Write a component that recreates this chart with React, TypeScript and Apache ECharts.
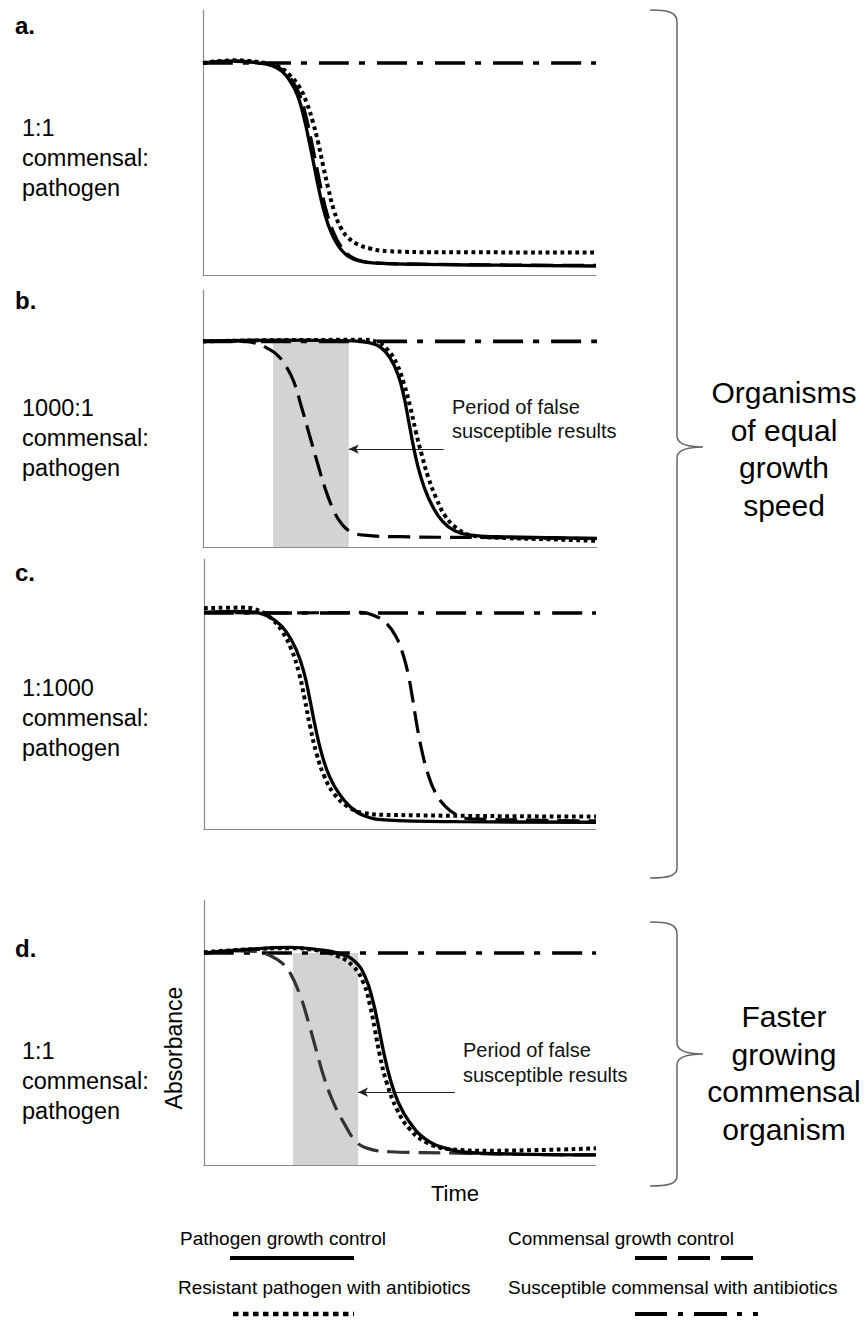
import React, { useEffect, useRef } from "react";
import * as echarts from "echarts";

type Pt = [number, number];

// ---------- data (time 0..100, absorbance 0..1) ----------
const panelLetters = ["a.", "b.", "c.", "d."];
const panelRatioLabels = ["1:1\ncommensal:\npathogen", "1000:1\ncommensal:\npathogen", "1:1000\ncommensal:\npathogen", "1:1\ncommensal:\npathogen"];
const seriesNames = [
  "Pathogen growth control",
  "Resistant pathogen with antibiotics",
  "Commensal growth control",
  "Susceptible commensal with antibiotics",
];
const bracketLabels = ["Organisms\nof equal\ngrowth\nspeed", "Faster\ngrowing\ncommensal\norganism"];
const annotationText = "Period of false\nsusceptible results";
const xAxisName = "Time";
const yAxisName = "Absorbance";

// panel a
const aPathogen: Pt[] = [[0, 0.8], [8, 0.808], [14, 0.8], [17.5, 0.79], [20, 0.77], [22, 0.735], [24, 0.68], [25.5, 0.605], [27, 0.505], [28.3, 0.41], [29.6, 0.315], [31, 0.23], [32.5, 0.165], [34.5, 0.108], [37, 0.07], [40, 0.052], [44, 0.045], [55, 0.04], [75, 0.037], [100, 0.034]];
const aCommensal: Pt[] = [[0, 0.8], [8, 0.806], [14.6, 0.8], [18.1, 0.79], [20.6, 0.77], [22.6, 0.735], [24.6, 0.68], [26.1, 0.605], [27.6, 0.505], [28.9, 0.41], [30.2, 0.315], [31.6, 0.23], [33.1, 0.165], [35.1, 0.108], [37.6, 0.07], [40.6, 0.052], [44.6, 0.045], [55, 0.041], [75, 0.038], [100, 0.036]];
const aResistant: Pt[] = [[0, 0.8], [8, 0.81], [16, 0.8], [19.5, 0.785], [22, 0.755], [24.5, 0.71], [26.5, 0.645], [28, 0.575], [29.3, 0.5], [30.6, 0.41], [31.9, 0.325], [33.3, 0.245], [35, 0.18], [37, 0.14], [39.5, 0.115], [42.5, 0.1], [47, 0.09], [60, 0.086], [100, 0.085]];
const aSusceptible: Pt[] = [[0, 0.8], [100, 0.8]];

// panel b
const bPathogen: Pt[] = [[0, 0.8], [20, 0.805], [38, 0.802], [42, 0.795], [45, 0.778], [47.5, 0.735], [49.5, 0.67], [51, 0.585], [52.2, 0.49], [53.3, 0.4], [54.6, 0.31], [56.2, 0.23], [58.2, 0.16], [60.8, 0.1], [64, 0.062], [68, 0.046], [75, 0.04], [90, 0.036], [100, 0.033]];
const bResistant: Pt[] = [[0, 0.8], [20, 0.805], [41, 0.806], [44.5, 0.795], [47, 0.765], [49.2, 0.712], [51, 0.635], [52.6, 0.545], [54, 0.45], [55.5, 0.36], [57.2, 0.27], [59.2, 0.19], [61.5, 0.12], [64.3, 0.075], [68, 0.045], [75, 0.036], [88, 0.03], [100, 0.024]];
const bCommensal: Pt[] = [[0, 0.801], [9, 0.802], [13.5, 0.793], [16.5, 0.772], [19, 0.745], [21, 0.705], [23, 0.645], [25, 0.545], [27, 0.437], [29, 0.33], [31, 0.228], [33, 0.148], [35, 0.094], [37.5, 0.06], [41, 0.046], [50, 0.04], [70, 0.037], [100, 0.033]];
const bSusceptible: Pt[] = [[0, 0.8], [100, 0.8]];

// panel c
const cPathogen: Pt[] = [[0, 0.802], [10, 0.806], [15, 0.796], [18.2, 0.772], [21, 0.73], [23.5, 0.665], [25.5, 0.58], [27, 0.48], [28.4, 0.378], [30, 0.28], [32, 0.195], [34.5, 0.13], [37.5, 0.08], [41, 0.048], [46, 0.034], [65, 0.027], [100, 0.025]];
const cResistant: Pt[] = [[0, 0.818], [10, 0.82], [14.5, 0.806], [17.5, 0.775], [20, 0.73], [22.3, 0.665], [24.2, 0.58], [25.7, 0.48], [27.1, 0.378], [28.7, 0.28], [30.7, 0.195], [33.2, 0.13], [36.5, 0.085], [40.5, 0.06], [48, 0.052], [100, 0.046]];
const cCommensal: Pt[] = [[0, 0.802], [20, 0.8], [40, 0.802], [43.5, 0.79], [46.5, 0.762], [49, 0.712], [50.8, 0.645], [52.2, 0.565], [53.3, 0.475], [54.3, 0.385], [55.5, 0.295], [57, 0.21], [59, 0.135], [61.5, 0.085], [64.5, 0.052], [68, 0.038], [83, 0.033], [100, 0.03]];
const cSusceptible: Pt[] = [[0, 0.8], [100, 0.8]];

// panel d
const dPathogen: Pt[] = [[0, 0.8], [9.3, 0.812], [22, 0.821], [28.8, 0.813], [34.5, 0.798], [38.5, 0.768], [41.2, 0.707], [43.1, 0.618], [44.5, 0.524], [45.8, 0.428], [47.4, 0.33], [49.6, 0.235], [52.5, 0.16], [56.5, 0.098], [62, 0.062], [70, 0.045], [100, 0.038]];
const dResistant: Pt[] = [[0, 0.803], [9.3, 0.812], [22, 0.818], [28.8, 0.81], [34, 0.789], [38.1, 0.749], [40.7, 0.687], [42.4, 0.599], [43.6, 0.511], [44.9, 0.411], [46.6, 0.311], [49.2, 0.211], [52.5, 0.135], [56.8, 0.085], [62.7, 0.06], [72.9, 0.054], [100, 0.063]];
const dCommensal: Pt[] = [[0, 0.8], [9.3, 0.808], [13.6, 0.806], [17, 0.789], [19.9, 0.762], [22, 0.724], [24.6, 0.637], [26.7, 0.536], [28.8, 0.424], [30.5, 0.336], [33, 0.236], [35.6, 0.161], [39, 0.085], [42.4, 0.06], [47.5, 0.05], [64.4, 0.045], [81.4, 0.04], [100, 0.038]];
const dSusceptible: Pt[] = [[0, 0.8], [100, 0.8]];

// false-susceptible period (time range, up to plateau absorbance) and arrows
const bBand = [17.8, 37.0, 0.8];
const dBand = [22.7, 39.3, 0.8];
const bArrow: Pt[] = [[61.1, 0.381], [37.0, 0.381]];
const dArrow: Pt[] = [[64.0, 0.275], [39.3, 0.275]];

// ---------- shapes ----------
const FONT = "'Liberation Sans', Arial, Helvetica, sans-serif";
const brace1 =
  "M650,10 C668,10 677,12 677,22 L677,436 C677,443 684,447 703,447 C684,447 677,451 677,458 L677,868 C677,876 668,878 650,878";
const brace2 =
  "M650,922 C668,922 677,924 677,934 L677,1043 C677,1050 684,1054 703,1054 C684,1054 677,1058 677,1065 L677,1176 C677,1184 668,1186 650,1186";
echarts.graphic.registerShape("braceTop", echarts.graphic.extendPath(brace1, {}));
echarts.graphic.registerShape("braceBottom", echarts.graphic.extendPath(brace2, {}));

const grids = [
  { left: 203, top: 10, width: 393, height: 265 },
  { left: 203, top: 290, width: 394, height: 257 },
  { left: 204, top: 559, width: 392, height: 270 },
  { left: 204, top: 900, width: 392, height: 265 },
];

const styles = {
  solid: { color: "#000", width: 3.3, type: "solid" },
  dotted: { color: "#000", width: 4, type: [3.8, 3.6] },
  dashed: { color: "#000", width: 3.2, type: [22, 9] },
  dashDot: { color: "#000", width: 3.6, type: [30, 10, 6, 12] },
};

export default function App() {
  const ref = useRef<HTMLDivElement>(null);
  useEffect(() => {
    if (!ref.current) return;
    const chart = echarts.init(ref.current, undefined, { renderer: "svg" });

    const panels = [
      { p: aPathogen, r: aResistant, c: aCommensal, s: aSusceptible },
      { p: bPathogen, r: bResistant, c: bCommensal, s: bSusceptible },
      { p: cPathogen, r: cResistant, c: cCommensal, s: cSusceptible },
      { p: dPathogen, r: dResistant, c: dCommensal, s: dSusceptible },
    ];

    const series: any[] = [];
    const mkLine = (name: string, data: Pt[], idx: number, ls: any, z: number) => ({
      type: "line",
      name,
      data,
      xAxisIndex: idx,
      yAxisIndex: idx,
      showSymbol: false,
      symbol: "none",
      smooth: 0.45,
      lineStyle: ls,
      z,
      silent: true,
    });

    panels.forEach((pn, i) => {
      const band = i === 1 ? bBand : i === 3 ? dBand : null;
      if (band) {
        series.push({
          type: "line",
          data: [],
          xAxisIndex: i,
          yAxisIndex: i,
          z: 1,
          silent: true,
          markArea: {
            silent: true,
            itemStyle: { color: "#d3d3d3" },
            data: [[{ coord: [band[0], 0] }, { coord: [band[1], band[2]] }]],
          },
        });
      }
      series.push(mkLine(seriesNames[3], pn.s, i, styles.dashDot, 3));
      series.push(mkLine(seriesNames[2], pn.c, i, i === 3 ? { ...styles.dashed, color: "#333" } : styles.dashed, 4));
      series.push(mkLine(seriesNames[0], pn.p, i, styles.solid, 5));
      series.push(mkLine(seriesNames[1], pn.r, i, styles.dotted, 6));
      const arrow = i === 1 ? bArrow : i === 3 ? dArrow : null;
      if (arrow) {
        series.push({
          type: "line",
          data: [],
          xAxisIndex: i,
          yAxisIndex: i,
          z: 7,
          silent: true,
          markLine: {
            silent: true,
            symbol: ["none", "arrow"],
            symbolSize: [7, 10],
            label: { show: false },
            lineStyle: { color: "#222", width: 1, type: "solid" },
            data: [[{ coord: arrow[0] }, { coord: arrow[1] }]],
          },
        });
      }
    });

    const axisCommon = {
      type: "value",
      axisLine: { show: true, onZero: false, lineStyle: { color: "#8a8a8a", width: 1.2 } },
      axisTick: { show: false },
      axisLabel: { show: false },
      splitLine: { show: false },
    };

    const letterY = [25, 300, 572, 948];
    const labelY = [158, 438, 718, 1081];

    const graphic: any[] = [];
    panelLetters.forEach((t, i) => {
      graphic.push({
        type: "text",
        x: 15,
        y: letterY[i],
        style: { text: t, fontFamily: FONT, fontSize: 24, fontWeight: "bold", fill: "#000", align: "left", verticalAlign: "middle" },
      });
      graphic.push({
        type: "text",
        x: 22,
        y: labelY[i],
        style: { text: panelRatioLabels[i], fontFamily: FONT, fontSize: 23.5, lineHeight: 30, fill: "#000", align: "left", verticalAlign: "middle" },
      });
    });
    graphic.push({
      type: "text",
      x: 452,
      y: 419,
      style: { text: annotationText, fontFamily: FONT, fontSize: 20, lineHeight: 24.5, fill: "#111", align: "left", verticalAlign: "middle" },
    });
    graphic.push({
      type: "text",
      x: 463,
      y: 1062,
      style: { text: annotationText, fontFamily: FONT, fontSize: 20, lineHeight: 25, fill: "#111", align: "left", verticalAlign: "middle" },
    });
    graphic.push({
      type: "text",
      x: 174,
      y: 1048,
      rotation: Math.PI / 2,
      style: { text: yAxisName, fontFamily: FONT, fontSize: 23, fill: "#000", align: "center", verticalAlign: "middle" },
    });
    graphic.push({
      type: "text",
      x: 455,
      y: 1193,
      style: { text: xAxisName, fontFamily: FONT, fontSize: 22, fill: "#000", align: "center", verticalAlign: "middle" },
    });
    graphic.push({ type: "braceTop", x: 0, y: 0, style: { fill: "none", stroke: "#666", lineWidth: 1.5 } });
    graphic.push({ type: "braceBottom", x: 0, y: 0, style: { fill: "none", stroke: "#666", lineWidth: 1.5 } });
    graphic.push({
      type: "text",
      x: 784,
      y: 449,
      style: { text: bracketLabels[0], fontFamily: FONT, fontSize: 30, lineHeight: 37.5, fill: "#000", align: "center", verticalAlign: "middle" },
    });
    graphic.push({
      type: "text",
      x: 784,
      y: 1073,
      style: { text: bracketLabels[1], fontFamily: FONT, fontSize: 30, lineHeight: 37.5, fill: "#000", align: "center", verticalAlign: "middle" },
    });
    const legendText = (t: string, x: number, y: number) => ({
      type: "text",
      x,
      y,
      style: { text: t, fontFamily: FONT, fontSize: 19, fill: "#000", align: "left", verticalAlign: "middle" },
    });
    graphic.push(legendText(seriesNames[0], 180, 1238));
    graphic.push(legendText(seriesNames[1], 178, 1287));
    graphic.push(legendText(seriesNames[2], 508, 1238));
    graphic.push(legendText(seriesNames[3], 508, 1287));
    graphic.push({ type: "line", shape: { x1: 230, y1: 1258, x2: 354, y2: 1258 }, style: { stroke: "#000", lineWidth: 4 } });
    graphic.push({ type: "line", shape: { x1: 233, y1: 1314, x2: 354, y2: 1314 }, style: { stroke: "#000", lineWidth: 4.5, lineDash: [5.5, 4.5] } });
    graphic.push({ type: "line", shape: { x1: 635, y1: 1258, x2: 753, y2: 1258 }, style: { stroke: "#000", lineWidth: 4, lineDash: [32, 11] } });
    graphic.push({
      type: "line",
      shape: { x1: 635, y1: 1314, x2: 758, y2: 1314 },
      style: { stroke: "#000", lineWidth: 4, lineDash: [32, 11, 5, 11, 33, 10, 5, 11, 5, 60] },
    });

    chart.setOption({
      animation: false,
      backgroundColor: "#fff",
      grid: grids.map((g) => ({ ...g, containLabel: false })),
      xAxis: grids.map((_, i) => ({ ...axisCommon, gridIndex: i, min: 0, max: 100 })),
      yAxis: grids.map((_, i) => ({ ...axisCommon, gridIndex: i, min: 0, max: 1 })),
      series,
      graphic,
    });
    return () => chart.dispose();
  }, []);
  return <div ref={ref} style={{ position: "absolute", left: 0, top: 0, width: 868, height: 1320 }} />;
}
